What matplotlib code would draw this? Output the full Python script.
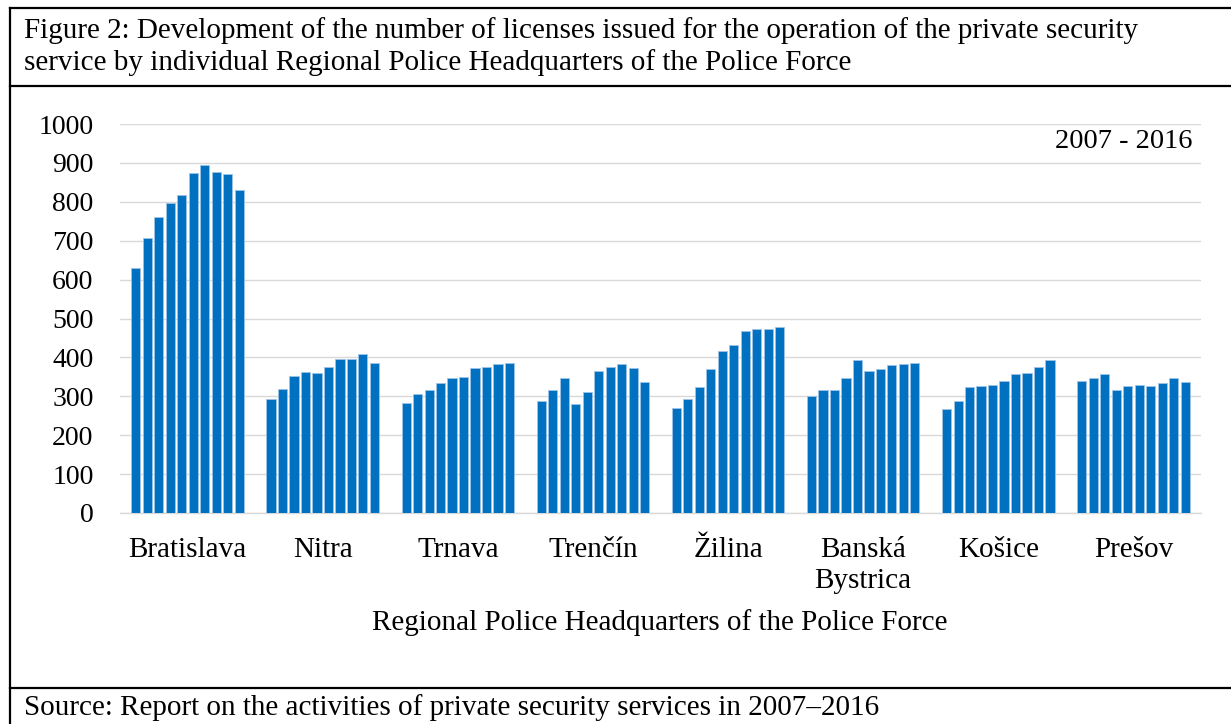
import numpy as np
import matplotlib
matplotlib.use("Agg")
import matplotlib.pyplot as plt
from matplotlib.lines import Line2D
from matplotlib.transforms import blended_transform_factory

# licenses issued per regional HQ, years 2007..2016
regions = ["Bratislava", "Nitra", "Trnava", "Trenčín", "Žilina",
           "Banská\nBystrica", "Košice", "Prešov"]
bratislava = [631, 706, 761, 798, 817, 873, 894, 876, 871, 830]
nitra = [293, 320, 352, 362, 359, 375, 395, 395, 409, 386]
trnava = [283, 307, 316, 333, 346, 349, 372, 375, 382, 385]
trencin = [287, 316, 346, 279, 310, 366, 375, 382, 373, 336]
zilina = [270, 293, 323, 369, 416, 432, 468, 474, 474, 477]
banska = [302, 316, 316, 346, 393, 366, 369, 380, 383, 386]
kosice = [267, 287, 323, 326, 329, 339, 357, 360, 375, 393]
presov = [339, 346, 357, 316, 326, 329, 326, 333, 346, 336]
values = [bratislava, nitra, trnava, trencin, zilina, banska, kosice, presov]
yticks = list(range(0, 1001, 100))

plt.rcParams['font.family'] = ['Liberation Serif', 'DejaVu Serif']

W, H = 1231, 724
fig = plt.figure(figsize=(W / 100, H / 100), dpi=100)

ax = fig.add_axes([120 / W, 1 - 513 / H, 1081 / W, 389 / H])

step = 0.085
for i, vals in enumerate(values):
    x = i + (np.arange(len(vals)) - 4.5) * step
    ax.bar(x, vals, width=step * 0.8, color="#0070C0",
           edgecolor="#9dc3e6", linewidth=0.6, zorder=3)

ax.set_xlim(-0.5, len(regions) - 0.5)
ax.set_ylim(0, 1000)
ax.set_yticks(yticks)
ax.set_xticks(range(len(regions)))
ax.set_xticklabels(regions, fontsize=21, linespacing=1.25)
ax.tick_params(axis="y", length=0, pad=19, labelsize=20)
ax.tick_params(axis="x", length=0, pad=17)
ax.grid(axis="y", color="#d9d9d9", linewidth=1, zorder=0)
for s in ["top", "right", "left"]:
    ax.spines[s].set_visible(False)
ax.spines["bottom"].set_color("#d9d9d9")
ax.spines["bottom"].set_linewidth(1)

trans = blended_transform_factory(ax.transAxes, ax.transData)
ax.text(0.992, 954, "2007 - 2016", transform=trans, ha="right",
        va="center", fontsize=20.5)

fig.text(660 / W, 1 - 623 / H, "Regional Police Headquarters of the Police Force",
         ha="center", va="center", fontsize=21)

# table frame around the figure
lw = 1.6
def hline(y):
    fig.add_artist(Line2D([10 / W, 1], [1 - y / H, 1 - y / H],
                          color="black", linewidth=lw))
hline(8)
hline(86)
hline(688)
fig.add_artist(Line2D([10 / W, 10 / W], [1 - 8 / H, 0],
                      color="black", linewidth=lw))

fig.text(24 / W, 1 - 31 / H,
         "Figure 2: Development of the number of licenses issued for the operation of the private security",
         ha="left", va="center", fontsize=21)
fig.text(24 / W, 1 - 63 / H,
         "service by individual Regional Police Headquarters of the Police Force",
         ha="left", va="center", fontsize=21)
fig.text(24 / W, 1 - 708 / H,
         "Source: Report on the activities of private security services in 2007–2016",
         ha="left", va="center", fontsize=21)

fig.savefig("out.png", dpi=100)
